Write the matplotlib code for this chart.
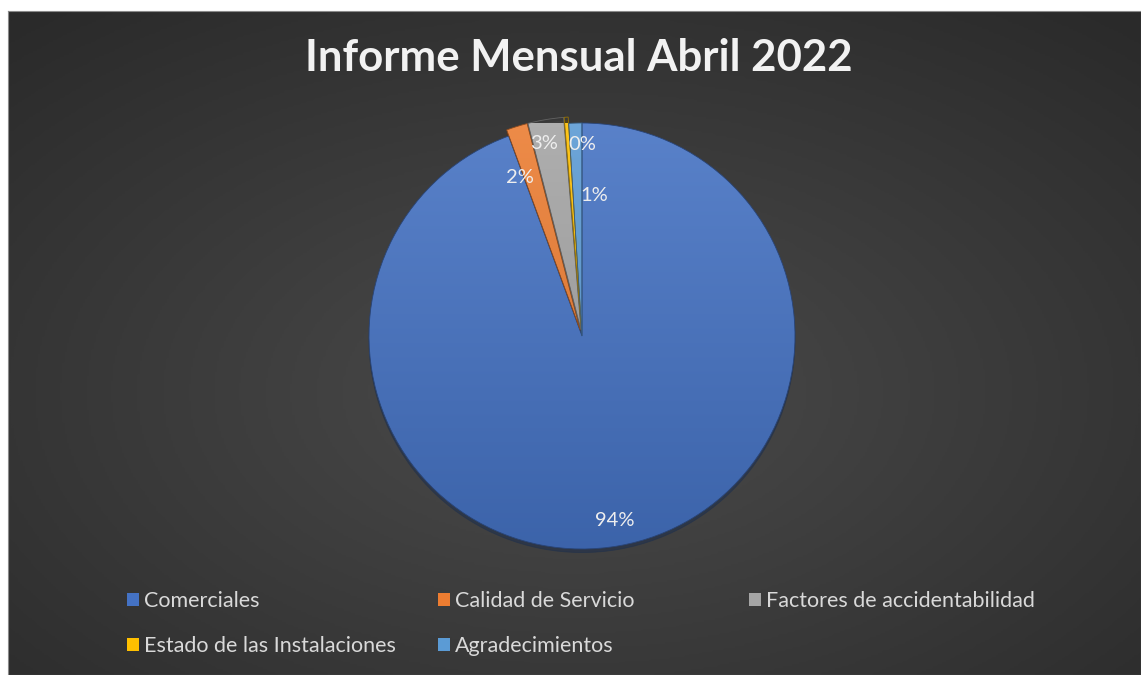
import numpy as np
import matplotlib
matplotlib.use("Agg")
import matplotlib.pyplot as plt
from matplotlib.colors import LinearSegmentedColormap, to_rgb
from matplotlib.patches import Patch

# datos (porcentajes)
categorias = ["Comerciales", "Calidad de Servicio", "Factores de accidentabilidad",
              "Estado de las Instalaciones", "Agradecimientos"]
valores = [94.4, 1.6, 2.7, 0.3, 1.0]
colores = ["#4472C4", "#ED7D31", "#A5A5A5", "#FFC000", "#5B9BD5"]
titulo = "Informe Mensual Abril 2022"

# posicion de etiquetas: (radio, desplazamiento angular en grados)
pos_etiquetas = [(0.88, 0.0), (0.80, 4.0), (0.92, 1.5), (0.90, -4.1), (0.66, -6.6)]
separacion = [0, 0.03, 0.03, 0.03, 0]

plt.rcParams['font.family'] = ['Lato', 'DejaVu Sans']

W, H = 1141, 675
fig = plt.figure(figsize=(W / 100, H / 100), dpi=100, facecolor="white")

# fondo con degradado radial
ax_bg = fig.add_axes([8 / W, 0, 1 - 8 / W, 1 - 11 / H])
yy, xx = np.mgrid[-1:1:300j, -1:1:500j]
r = np.sqrt(xx ** 2 + (yy + 0.15) ** 2) / 1.5
fondo = LinearSegmentedColormap.from_list("fondo", ["#4b4b4b", "#2a2a2a"])
ax_bg.imshow(np.clip(r, 0, 1), cmap=fondo, vmin=0, vmax=1, aspect="auto",
             extent=[0, 1, 0, 1], origin="lower")
ax_bg.set_xticks([])
ax_bg.set_yticks([])
for s in ax_bg.spines.values():
    s.set_color("#8a8a8a")
    s.set_linewidth(0.8)

fig.text(579 / W, 1 - 58 / H, titulo, ha="center", va="center", fontsize=31.5,
         fontweight="bold", color="#f2f2f2")

# tarta
cx, cy, rad = 582 / W, 1 - 336 / H, 213
ax = fig.add_axes([cx - rad / W, cy - rad / H, 2 * rad / W, 2 * rad / H])
wedges, _ = ax.pie(valores, colors=colores, startangle=90, counterclock=False,
                   explode=separacion, radius=1.0,
                   shadow={"ox": 0.0, "oy": -0.012, "shade": 0.6},
                   wedgeprops={"linewidth": 0.6})

grad = np.linspace(0, 1, 256).reshape(-1, 1)
for w, col in zip(wedges, colores):
    base = np.array(to_rgb(col))
    claro = base + (1 - base) * 0.12
    oscuro = base * 0.86
    cm = LinearSegmentedColormap.from_list("g", [oscuro, claro])
    im = ax.imshow(grad, cmap=cm, extent=[-1.1, 1.1, -1.1, 1.1], origin="lower",
                   aspect="auto", zorder=1.05)
    im.set_clip_path(w)
    w.set_facecolor("none")
    w.set_edgecolor(tuple(base * 0.6))
    w.set_zorder(1.1)

for w, v, (rr, off) in zip(wedges, valores, pos_etiquetas):
    ang = np.deg2rad((w.theta1 + w.theta2) / 2 + off)
    ax.text(rr * np.cos(ang), rr * np.sin(ang), f"{v:.0f}%", ha="center",
            va="center", fontsize=14.5, color="#eeeeee", zorder=3)

ax.set_xlim(-1, 1)
ax.set_ylim(-1, 1)
ax.set_aspect("auto")
ax.axis("off")

# leyenda: tres columnas, ordenadas por filas como en Excel
col_x = [127 / W, 438 / W, 749 / W]
for c in range(3):
    idx = list(range(len(categorias)))[c::3]
    handles = [Patch(facecolor=colores[i], edgecolor="none") for i in idx]
    fig.legend(handles, [categorias[i] for i in idx], loc="upper left",
               bbox_to_anchor=(col_x[c], 1 - 591 / H), frameon=False,
               fontsize=15.5, labelcolor="#d9d9d9", handlelength=0.55,
               handleheight=0.55, handletextpad=0.25, labelspacing=1.18,
               borderpad=0, borderaxespad=0)

fig.savefig("out.png", dpi=100, facecolor=fig.get_facecolor())
